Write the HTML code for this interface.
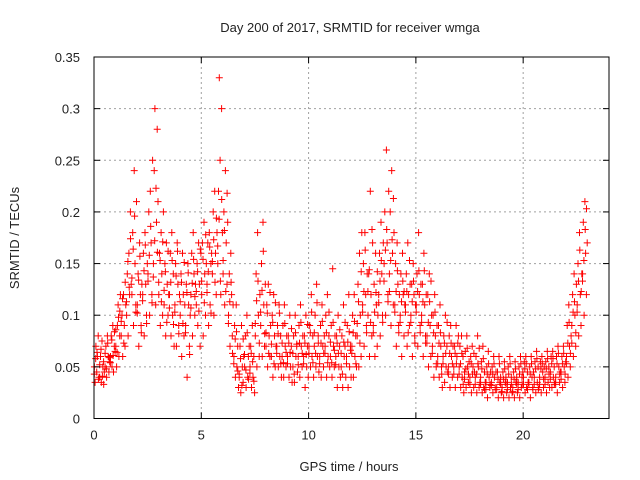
<!DOCTYPE html>
<html><head><meta charset="utf-8"><style>
body{margin:0;background:#fff;width:640px;height:480px;overflow:hidden}
svg{display:block;font-family:"Liberation Sans",sans-serif;font-size:13px}
</style></head><body>
<svg id="chart" width="640" height="480">
<text x="350" y="32" text-anchor="middle" fill="#222">Day 200 of 2017, SRMTID for receiver wmga</text>
<text x="349" y="471" text-anchor="middle" fill="#222">GPS time / hours</text>
<text transform="translate(19,238) rotate(-90)" text-anchor="middle" fill="#222">SRMTID / TECUs</text>
<g id="grid"></g><g id="pts"></g><g id="axes"></g>
</svg>
<script>
const xTicks=[0,5,10,15,20];
const yTicks=[0,0.05,0.1,0.15,0.2,0.25,0.3,0.35];
const yTickLabels=["0","0.05","0.1","0.15","0.2","0.25","0.3","0.35"];
const slotStarts=[0,0.25,0.5,0.75,1,1.25,1.5,1.75,2,2.25,2.5,2.75,3,3.25,3.5,3.75,4,4.25,4.5,4.75,5,5.25,5.5,5.75,6,6.25,6.5,6.75,7,7.25,7.5,7.75,8,8.25,8.5,8.75,9,9.25,9.5,9.75,10,10.25,10.5,10.75,11,11.25,11.5,11.75,12,12.25,12.5,12.75,13,13.25,13.5,13.75,14,14.25,14.5,14.75,15,15.25,15.5,15.75,16,16.25,16.5,16.75,17,17.25,17.5,17.75,18,18.25,18.5,18.75,19,19.25,19.5,19.75,20,20.25,20.5,20.75,21,21.25,21.5,21.75,22,22.25,22.5,22.75];
// values in hundredths of TECU per 15-minute slot
const srmtidCenti=[
[5,3.5,7,4.5,6,8,4],[4,6,3.5,7.5,5,5.5,4.5],[5,7,4,8,6,4.5,5.5],[6,8,5,9,4.5,7,6.5],
[7,5,9,11,6,8,12],[8,10,6,12,9,7,11],[10,14,8,16,12,20,13],[12,18,9,24,15,11,21],
[11,14,7,17,12,9,13],[12,16,8,18,13,10,15],[14,20,10,22,17,12,25],[15,24,30,11,19,28,21],
[12,16,9,18,14,10,20],[11,15,8,17,13,10,12],[12,16,8,18,10,14,7],[11,15,7,17,13,9,12],
[10,14,6,16,12,8,11],[9,13,4,15,11,7,10],[12,16,8,18,14,10,13],[11,15,9,17,13,7,16],
[12,17,8,19,14,10,15],[13,17,9,18,11,15,16],[14,20,10,22,16,12,18],[15,22,33,25,12,30,18],
[14,20,11,24,17,13,19],[10,14,7,16,12,8,11],[6,9,4,11,5,7,3],[4,7,2.5,9,5,3.5,6],
[5,8,3,10,4,6,7],[5,7,3,9,4,6,2.5],[8,14,5,18,10,6,12],[9,15,6,19,11,7,13],
[7,11,5,13,8,6,9],[6,10,4,12,8,5,7],[7,9,5,11,6,8,4],[6,9,4,11,7,5,8],
[6,8,4,10,5,7,3.5],[5,8,3.5,10,6,7,4.5],[6,9,4,11,7,5,8],[6,8,3,10,5,7,4],
[7,9,5,12,6,8,4],[7,10,5,13,6,8,4.5],[6,9,4,11,7,5,8],[7,10,4,12,6,8,5],
[6,9,4,14.5,7,5,8],[6,8,3,10,5,7,4],[5,8,3,11,6,7,4],[6,9,3,12,5,7,4],
[7,10,4,12,6,8,5],[8,13,5,16,10,6,18],[11,15,7,18,12,9,14],[10,14,6,22,12,8,17],
[9,13,6,16,11,7,10],[12,16,8,19,14,10,17],[15,20,10,26,17,12,22],[14,20,9,24,16,11,18],
[11,15,7,17,13,9,12],[10,14,6,16,12,8,11],[11,14,7,17,12,9,13],[10,13,6,15,12,8,11],
[11,14,7,18,12,9,13],[10,13,6,16,11,8,12],[8,12,5,14,9,6,10],[7,10,4,12,8,5,9],
[6,9,4,11,7,5,3],[6,8,3.5,10,5,7,4.5],[5,8,3,9,6,4,7],[5,7,3,9,6,4,8],
[5,7,3,8,4,6,2.5],[4.5,6.5,3,8,5,3.5,5.5],[4,6,2.5,7,5,3,4.5],[4,6,2.5,8,5,3,3.5],
[4,5.5,2.5,7,3,4.5,3.5],[3.5,5,2,6.5,4,3,4.5],[3.5,5,2.5,6,4,3,4.5],[3,4.5,2,6,3.5,4,2.5],
[3,4.5,2,5.5,3.5,4,2.5],[3.5,5,2,6,3,4,2.5],[3,4.5,2,5.5,3.5,4,2.5],[3.5,5,2,6,3,4,4.5],
[4,5.5,2.5,6,3,4.5,3.5],[3.5,5,2,6,4,3,4.5],[4,5.5,2.5,6.5,3.5,5,3],[4,5.5,2.5,6,4.5,3,5],
[4,5.5,2.5,6.5,3.5,5,3],[4.5,6,3,6.5,4,5,3.5],[4,6,2.5,7,5,3.5,4.5],[4.5,6,3,7,5,3.5,5.5],
[6,9,4,11,7,5,8],[9,12,6,14,10,7,13],[11,15,8,18,12,9,14],[14,19,10,21,16,12,17]];
// second receiver-satellite cloud, hundredths of TECU, per slot
const srmtidCenti2=[
[4.3,5.8,6.4,3.8],[5.2,6.7,4.1,3.3],[6.3,4.8,7.3,5.9],[5.4,7.6,6.1,8.4],
[8.6,6.4,9.8,10.4],[9.4,11.6,7.3,13.2],[11.3,15.2,12.7,17.4],[13.6,16.4,19.6,10.3],
[10.2,13.4,15.7,8.3],[11.4,14.3,16.8,9.2],[13.3,15.8,18.6,11.2],[13.7,17.2,22.3,16.1],
[13.2,15.3,11.3,17.1],[12.4,14.2,9.3,16.2],[10.7,13.2,15.3,9.1],[10.3,13.8,16.2,8.2],
[11.3,13.2,9.2,15.1],[8.3,12.2,14.1,6.2],[10.7,13.1,15.4,11.8],[12.3,14.2,10.4,16.4],
[13.3,15.4,11.2,17.8],[12.2,14.2,16.6,10.2],[15.2,17.3,13.2,19.4],[16.7,19.3,13.3,21.2],
[15.3,18.2,12.3,21.8],[9.2,11.3,13.2,6.3],[5.3,7.7,8.4,4.6],[4.3,5.8,3.2,7.7],
[6.2,4.7,8.3,3.8],[4.4,6.3,5.5,3.6],[9.2,11.4,13.3,7.3],[10.3,12.4,16.2,8.2],
[8.3,10.2,6.3,12.2],[7.2,9.3,5.3,11.2],[6.3,8.2,10.2,5.3],[7.3,5.4,9.2,6.4],
[5.3,7.3,6.4,8.7],[6.3,4.3,8.3,7.2],[5.2,7.3,9.3,6.3],[5.3,7.3,6.2,9.1],
[6.3,8.3,10.3,5.4],[8.3,6.3,11.2,7.3],[5.3,7.3,9.4,6.3],[6.3,8.3,5.4,10.3],
[7.4,5.4,9.3,6.6],[5.2,7.3,6.3,8.6],[6.3,4.3,7.4,9.3],[5.3,7.4,8.4,6.6],
[6.3,8.3,9.4,5.3],[9.2,11.3,7.3,14.2],[10.3,12.3,16.3,8.3],[12.3,14.4,9.3,18.3],
[8.3,10.3,12.2,14.2],[11.2,13.3,15.3,9.3],[13.3,16.3,18.3,11.3],[12.3,15.3,17.3,21.3],
[10.3,12.3,14.3,8.3],[9.3,11.3,13.3,12.3],[10.3,12.3,8.3,15.3],[9.3,11.3,13.3,7.3],
[10.3,12.3,14.3,8.3],[9.3,11.3,14.3,7.3],[7.3,9.3,11.3,13.3],[6.3,8.3,10.3,5.3],
[5.3,7.3,8.3,4.3],[5.3,7.3,6.3,9.3],[4.3,6.3,7.3,5.3],[4.3,6.3,5.3,7.3],
[4.3,5.3,6.3,3.3],[3.8,4.8,6.8,4.3],[3.3,5.3,4.3,6.3],[3.3,4.3,5.3,6.8],
[3.3,4.8,5.8,2.8],[2.8,4.3,5.3,3.3],[3.2,4.3,5.3,2.8],[2.8,3.8,5.3,3.3],
[2.6,3.8,4.8,3.3],[2.8,4.3,5.3,3.3],[2.6,3.8,4.8,3.3],[2.8,4.3,5.3,3.3],
[3.3,4.8,5.3,2.8],[3.3,4.3,5.3,2.8],[3.3,4.8,5.8,2.8],[3.3,4.8,5.3,3.8],
[3.3,4.8,5.8,4.3],[3.8,5.3,5.8,3.3],[3.3,5.3,6.3,4.3],[3.8,5.3,6.3,4.3],
[5.3,7.3,9.3,6.3],[7.3,10.3,11.3,8.3],[10.3,13.3,16.3,12.3],[13.3,15.3,18.3,20.3]];
const X0=94,X1=609,Y0=418.5,Y1=57,XMAX=24,YMAX=0.35;
const sx=t=>X0+(X1-X0)*t/XMAX, sy=v=>Y0-(Y0-Y1)*v/YMAX;
const NS="http://www.w3.org/2000/svg";
function mk(tag,attrs,parent){const e=document.createElementNS(NS,tag);for(const k in attrs)e.setAttribute(k,attrs[k]);parent.appendChild(e);return e;}
const grid=document.getElementById('grid'),axes=document.getElementById('axes'),pts=document.getElementById('pts');
xTicks.forEach(t=>{
 if(t>0){const g=mk('line',{x1:sx(t),x2:sx(t),y1:Y1,y2:Y0,stroke:'#a0a0a0','stroke-dasharray':'2,3'},grid);
 
 }
 const l=mk('text',{x:sx(t),y:Y0+21,'text-anchor':'middle',fill:'#222'},axes);l.textContent=t;
 
 
 mk('line',{x1:sx(t),x2:sx(t),y1:Y0,y2:Y0-6,stroke:'#000'},axes);
 mk('line',{x1:sx(t),x2:sx(t),y1:Y1,y2:Y1+6,stroke:'#000'},axes);
});
yTicks.forEach((v,i)=>{
 if(v>0&&v<YMAX){const g=mk('line',{x1:X0,x2:X1,y1:sy(v),y2:sy(v),stroke:'#a0a0a0','stroke-dasharray':'2,3'},grid);
 
 }
 const l=mk('text',{x:X0-14,y:sy(v)+5,'text-anchor':'end',fill:'#222'},axes);l.textContent=yTickLabels[i];
 
 
 mk('line',{x1:X0,x2:X0+6,y1:sy(v),y2:sy(v),stroke:'#000'},axes);
 mk('line',{x1:X1,x2:X1-6,y1:sy(v),y2:sy(v),stroke:'#000'},axes);
});
const b=mk('rect',{x:X0,y:Y1,width:X1-X0,height:Y0-Y1,fill:'none',stroke:'#000'},axes);


function plus(x,y){return `M${(x-3.5).toFixed(1)} ${y.toFixed(1)}h7M${x.toFixed(1)} ${(y-3.5).toFixed(1)}v7`;}
let d='';
srmtidCenti.forEach((row,i)=>{
 row.forEach((c,j)=>{
  const t=slotStarts[i]+(j+0.5)/row.length*0.25;
  d+=plus(sx(t),sy(c/100));
 });
});
srmtidCenti2.forEach((row,i)=>{
 row.forEach((c,j)=>{
  const t=slotStarts[i]+(j+0.25)/row.length*0.25;
  d+=plus(sx(t),sy(c/100));
 });
});
const p=mk('path',{d:d,stroke:'#ff0000','stroke-width':1,fill:'none'},pts);


</script>
</body></html>
